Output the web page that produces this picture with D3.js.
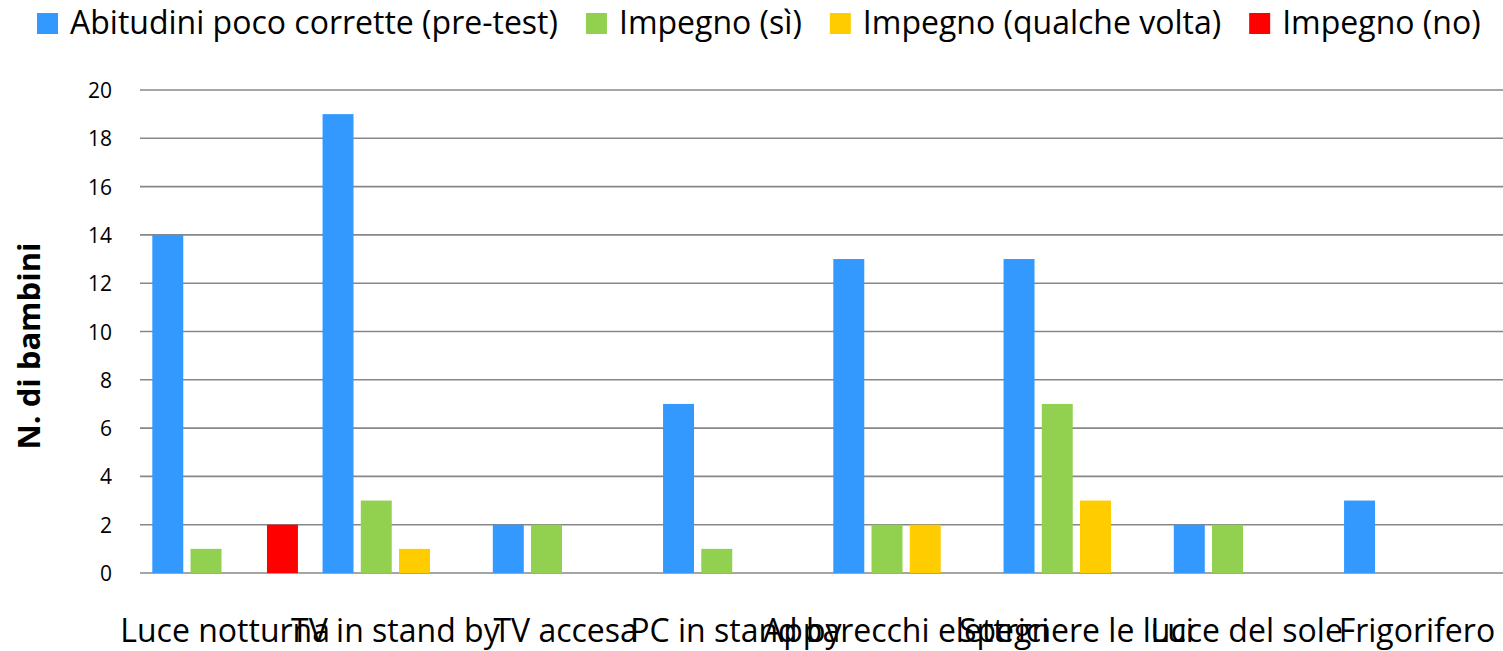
<!DOCTYPE html>
<html>
<head>
<meta charset="utf-8">
<script src="https://cdn.jsdelivr.net/npm/d3@7"></script>
<style>
  html, body { margin: 0; padding: 0; background: #fff; }
  svg { display: block; }
  text { font-family: "Open Sans", "Lato", sans-serif; fill: #000; }
</style>
</head>
<body>
<svg id="chart" width="1503" height="651"></svg>
<script>
const categories = ["Luce notturna", "TV in stand by", "TV accesa", "PC in stand by", "Apparecchi elettrici", "Spegnere le luci", "Luce del sole", "Frigorifero"];
const seriesNames = ["Abitudini poco corrette (pre-test)", "Impegno (sì)", "Impegno (qualche volta)", "Impegno (no)"];
const seriesColors = ["#3399FF", "#92D050", "#FFCC00", "#FF0000"];
const abitudini = [14, 19, 2, 7, 13, 13, 2, 3];
const impegnoSi = [1, 3, 2, 1, 2, 7, 2, 0];
const impegnoQualche = [0, 1, 0, 0, 2, 3, 0, 0];
const impegnoNo = [2, 0, 0, 0, 0, 0, 0, 0];
const yTicks = [0, 2, 4, 6, 8, 10, 12, 14, 16, 18, 20];
const yTitle = "N. di bambini";

const seriesValues = [abitudini, impegnoSi, impegnoQualche, impegnoNo];

const svg = d3.select("#chart");
const mLeft = 140, mRight = 1502, mTop = 90, mBottom = 573;

const x0 = d3.scaleBand().domain(categories).range([mLeft, mRight]).paddingInner(0).paddingOuter(0);
const x1 = d3.scaleBand().domain(d3.range(seriesNames.length)).range([0, x0.bandwidth()]).paddingInner(0.19).paddingOuter(0.322);
const y = d3.scaleLinear().domain([0, 20]).range([mBottom, mTop]);

// gridlines
svg.append("g").selectAll("line").data(yTicks).join("line")
  .attr("x1", mLeft).attr("x2", 1503)
  .attr("y1", d => y(d)).attr("y2", d => y(d))
  .attr("stroke", "#878787").attr("stroke-width", 1.6);

// y tick labels
const yAxis = d3.axisLeft(y).tickValues(yTicks).tickSize(0).tickPadding(0);
const gy = svg.append("g").attr("transform", `translate(112,0)`).call(yAxis);
gy.select(".domain").remove();
gy.selectAll("text").attr("font-size", 21).attr("font-family", "'Open Sans', sans-serif").attr("fill", "#000").attr("dy", "0.36em");

// bars
const data = [];
categories.forEach((c, ci) => {
  seriesValues.forEach((vals, si) => {
    if (vals[ci] > 0) data.push({c, si, v: vals[ci]});
  });
});
svg.append("g").selectAll("rect").data(data).join("rect")
  .attr("x", d => x0(d.c) + x1(d.si))
  .attr("width", x1.bandwidth())
  .attr("y", d => y(d.v))
  .attr("height", d => y(0) - y(d.v))
  .attr("fill", d => seriesColors[d.si]);

// x labels
const xAxis = d3.axisBottom(x0).tickSize(0).tickPadding(0);
const gx = svg.append("g").attr("transform", `translate(0,${mBottom})`).call(xAxis);
gx.select(".domain").remove();
gx.selectAll("text").attr("font-size", 32).attr("font-family", "'Open Sans', sans-serif").attr("fill", "#000")
  .attr("dy", null).attr("y", 69);

// y title
svg.append("text")
  .attr("transform", `translate(40,${346}) rotate(-90)`)
  .attr("text-anchor", "middle")
  .attr("font-size", 31).attr("font-weight", "bold")
  .text(yTitle);

// legend (laid out sequentially)
let lx = 37;
seriesNames.forEach((name, i) => {
  const g = svg.append("g");
  g.append("rect").attr("x", lx).attr("y", 13).attr("width", 21).attr("height", 21).attr("fill", seriesColors[i]);
  const t = g.append("text").attr("x", lx + 33).attr("y", 34).attr("font-size", 32).text(name);
  const w = t.node().getComputedTextLength();
  lx = lx + 33 + w + 28;
});
</script>
</body>
</html>
